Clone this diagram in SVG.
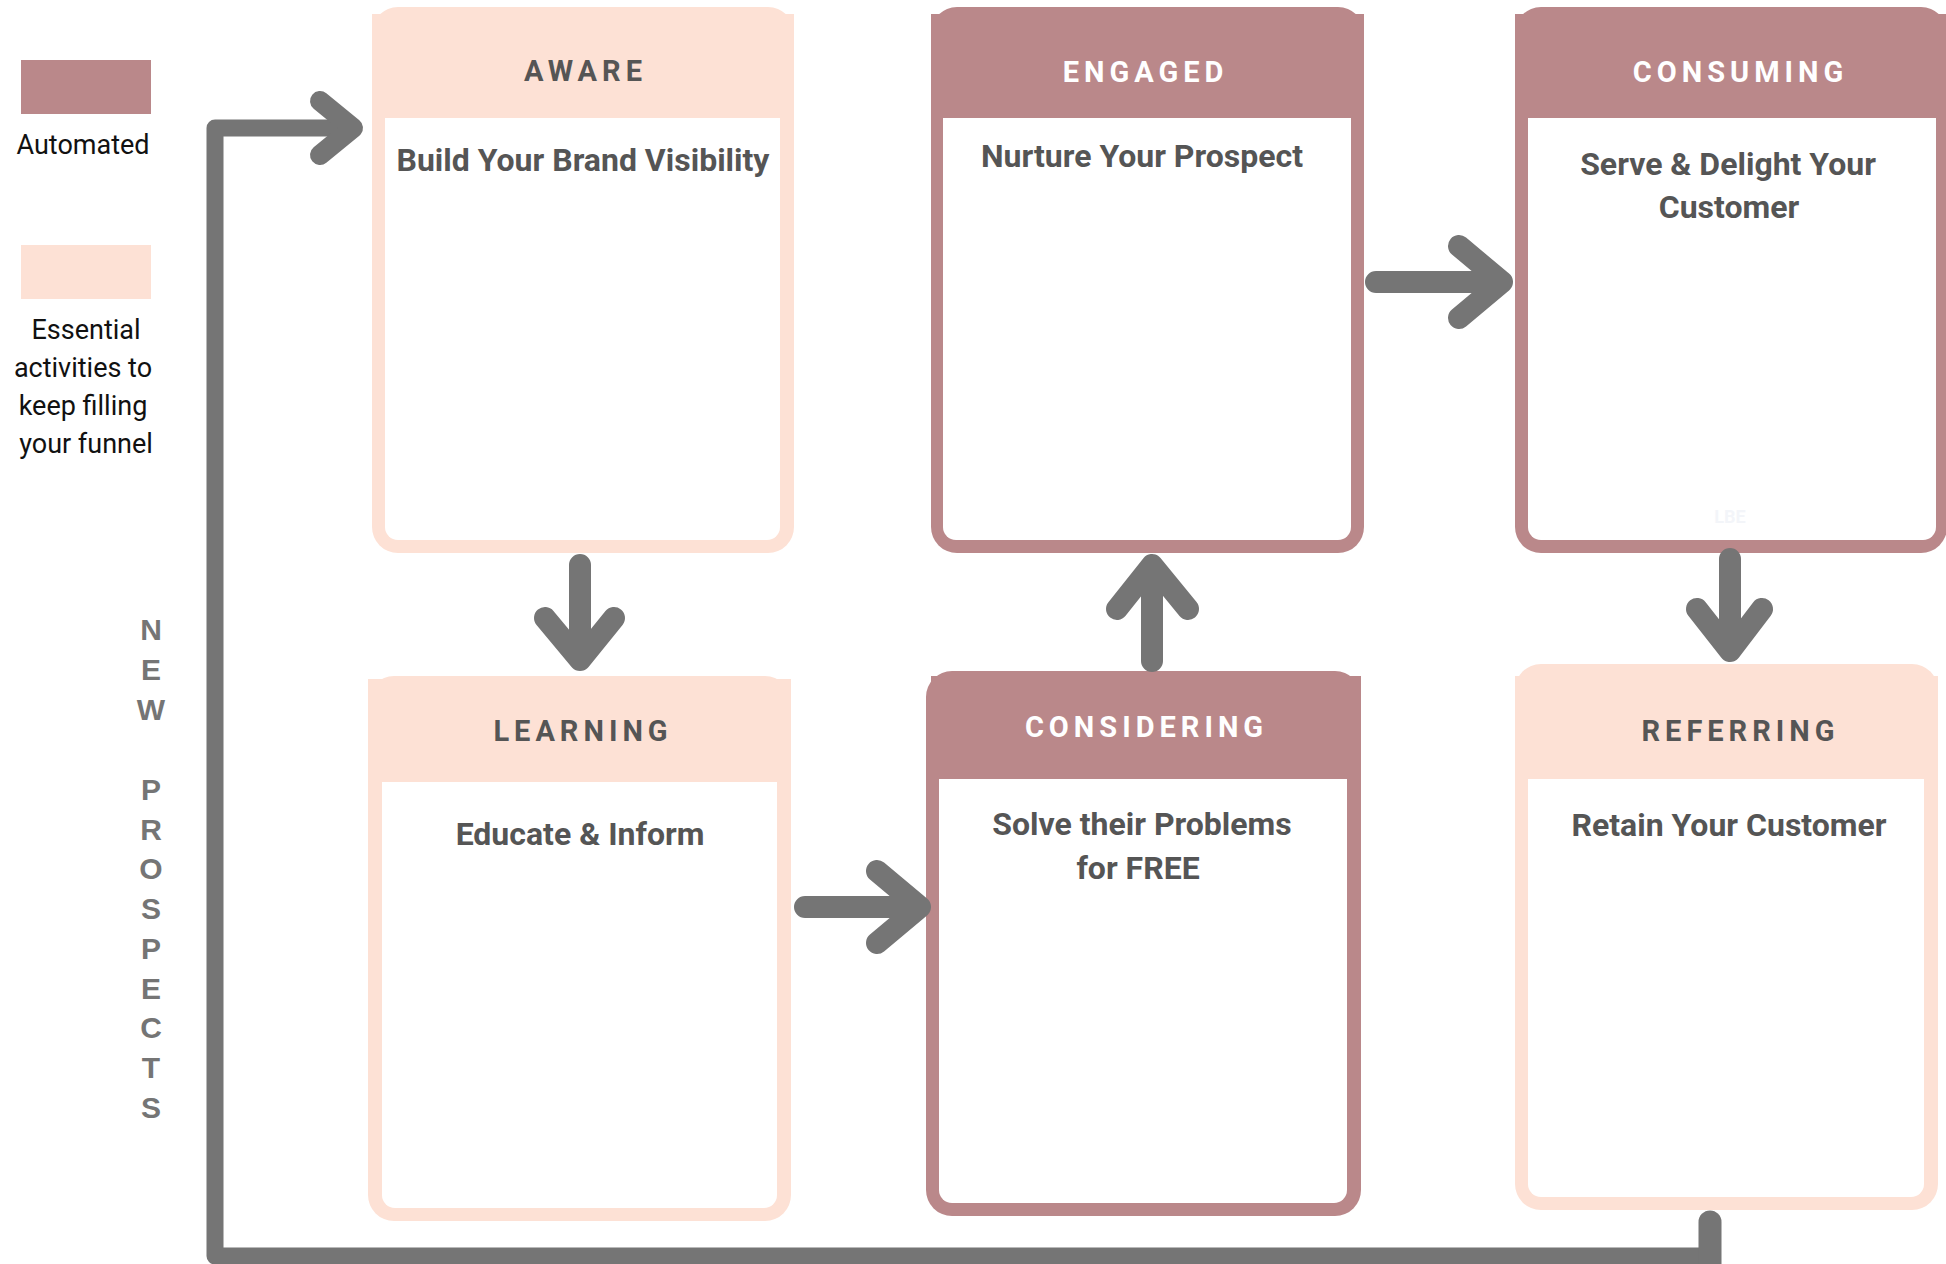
<svg xmlns="http://www.w3.org/2000/svg" width="1946" height="1264" viewBox="0 0 1946 1264">
<style>
.peach{fill:#FDE1D5}
.mauve{fill:#BA888A}
.white{fill:#FFFFFF}
.hd{font-family:Roboto,"Liberation Sans",sans-serif;font-weight:700;font-size:29px;letter-spacing:5px;text-anchor:middle}
.hdd{fill:#555555}
.hdw{fill:#FFFFFF}
.body{font-family:Roboto,"Liberation Sans",sans-serif;font-weight:700;font-size:32px;fill:#555555;text-anchor:middle}
.leg{font-family:Roboto,"Liberation Sans",sans-serif;font-size:27px;fill:#111111;text-anchor:middle}
.np{font-family:"Liberation Sans",Arial,sans-serif;font-weight:700;font-size:30px;fill:#757575;text-anchor:middle}
.arw{fill:none;stroke:#757575;stroke-width:22;stroke-linecap:round;stroke-linejoin:round}
.line{fill:none;stroke:#757575;stroke-width:17;stroke-linejoin:round}
</style>
<rect width="1946" height="1264" fill="#FFFFFF"/>

<g id="legend-automated">
<rect class="mauve" x="21" y="60" width="130" height="54"/>
<text class="leg" x="83" y="154">Automated</text>
</g>
<g id="legend-essential">
<rect class="peach" x="21" y="245" width="130" height="54"/>
<text class="leg" x="86" y="339">Essential</text>
<text class="leg" x="83" y="377">activities to</text>
<text class="leg" x="83" y="415">keep filling</text>
<text class="leg" x="86" y="453">your funnel</text>
</g>

<g id="new-prospects-label">
<text class="np"><tspan x="151" y="640">N</tspan><tspan x="151" y="680">E</tspan><tspan x="151" y="720">W</tspan><tspan x="151" y="800">P</tspan><tspan x="151" y="840">R</tspan><tspan x="151" y="879">O</tspan><tspan x="151" y="919">S</tspan><tspan x="151" y="959">P</tspan><tspan x="151" y="999">E</tspan><tspan x="151" y="1038">C</tspan><tspan x="151" y="1078">T</tspan><tspan x="151" y="1118">S</tspan></text>
</g>

<g id="aware">
<rect class="peach" x="372" y="7" width="422" height="546" rx="26"/>
<rect class="peach" x="372" y="14" width="422" height="104"/>
<path class="white" d="M385 118 H780 V527 A13 13 0 0 1 767 540 H398 A13 13 0 0 1 385 527 Z"/>
<text class="hd hdd" x="585.5" y="81">AWARE</text>
<text class="body" x="583" y="171">Build Your Brand Visibility</text>
</g>

<g id="engaged">
<rect class="mauve" x="931" y="7" width="433" height="546" rx="26"/>
<rect class="mauve" x="931" y="14" width="433" height="104"/>
<path class="white" d="M943 118 H1351 V527 A13 13 0 0 1 1338 540 H956 A13 13 0 0 1 943 527 Z"/>
<text class="hd hdw" x="1145.5" y="82">ENGAGED</text>
<text class="body" x="1142" y="167">Nurture Your Prospect</text>
</g>

<g id="consuming">
<rect class="mauve" x="1515" y="7" width="432" height="546" rx="26"/>
<rect class="mauve" x="1515" y="14" width="432" height="104"/>
<path class="white" d="M1528 118 H1936 V527 A13 13 0 0 1 1923 540 H1541 A13 13 0 0 1 1528 527 Z"/>
<text class="hd hdw" x="1740.5" y="82">CONSUMING</text>
<text class="body" x="1728" y="175">Serve &amp; Delight Your</text>
<text class="body" x="1729" y="218">Customer</text>
<text x="1730" y="523" font-family="Roboto,'Liberation Sans',sans-serif" font-weight="700" font-size="18" fill="#F3F5F9" text-anchor="middle">LBE</text>
</g>

<g id="learning">
<rect class="peach" x="368" y="676" width="423" height="545" rx="26"/>
<rect class="peach" x="368" y="679" width="423" height="103"/>
<path class="white" d="M382 782 H777 V1195 A13 13 0 0 1 764 1208 H395 A13 13 0 0 1 382 1195 Z"/>
<text class="hd hdd" x="583" y="741">LEARNING</text>
<text class="body" x="580" y="845">Educate &amp; Inform</text>
</g>

<g id="considering">
<rect class="mauve" x="926" y="671" width="435" height="545" rx="26"/>
<rect class="mauve" x="931" y="676" width="430" height="103"/>
<path class="white" d="M939 779 H1347 V1190 A13 13 0 0 1 1334 1203 H952 A13 13 0 0 1 939 1190 Z"/>
<text class="hd hdw" x="1146.5" y="737">CONSIDERING</text>
<text class="body" x="1142" y="835">Solve their Problems</text>
<text class="body" x="1138" y="879">for FREE</text>
</g>

<g id="referring">
<rect class="peach" x="1515" y="664" width="423" height="546" rx="26"/>
<rect class="peach" x="1515" y="676" width="423" height="103"/>
<path class="white" d="M1528 779 H1924 V1184 A13 13 0 0 1 1911 1197 H1541 A13 13 0 0 1 1528 1184 Z"/>
<text class="hd hdd" x="1740.5" y="741">REFERRING</text>
<text class="body" x="1729" y="836">Retain Your Customer</text>
</g>

<g id="connectors">
<path class="arw" d="M580 565 V660 M545 618 L580 660 L614 618"/>
<path class="arw" d="M1376 282 H1502 M1459 246 L1502 282 L1459 318"/>
<path class="arw" d="M1730 559 V651 M1697 609 L1730 651 L1762 609"/>
<path class="arw" d="M805 907 H920 M877 871 L920 907 L877 943"/>
<path class="arw" d="M1152 661 V565 M1117 609 L1152 565 L1188 609"/>
<path class="line" d="M1721 1256 H215 V128 H350"/>
<path class="arw" style="stroke-width:20" d="M320 101 L353 128 L320 155"/>
<path d="M1710 1222 V1270" fill="none" stroke="#757575" stroke-width="23" stroke-linecap="round"/>
</g>
</svg>
